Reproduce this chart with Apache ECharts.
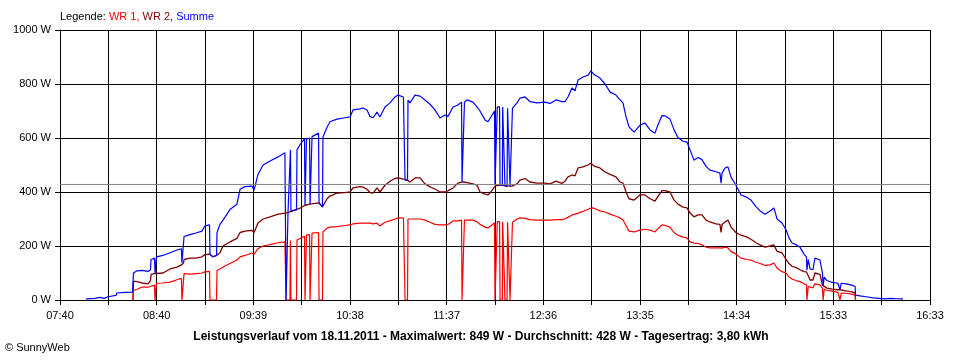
<!DOCTYPE html>
<html>
<head>
<meta charset="utf-8">
<script src="https://cdn.jsdelivr.net/npm/echarts@6/dist/echarts.min.js"></script>
<style>html,body{margin:0;padding:0;background:#fff}#c{width:960px;height:360px}</style>
</head>
<body>
<div id="c"></div>
<script>
// minutes since 07:40
const times = [15.9,21.4,24.5,27.0,29.4,30.6,34.3,34.9,39.8,44.4,
44.7,45.0,47.2,50.2,53.9,55.4,55.8,57.9,58.2,58.8,
59.1,63.1,67.4,68.6,71.7,74.4,74.7,75.7,76.0,79.6,
83.3,87.0,88.8,91.6,91.9,93.7,95.9,96.2,98.0,99.9,
104.1,108.4,110.3,113.3,117.6,118.9,121.3,124.4,128.7,133.6,
137.8,138.5,139.4,139.7,140.9,141.2,141.5,144.9,145.2,147.0,
149.8,150.1,150.7,151.0,152.9,153.2,154.1,154.4,158.4,158.7,
160.8,161.1,163.6,165.4,169.7,174.6,177.7,179.5,183.8,185.6,
188.1,189.9,191.8,194.2,196.0,199.1,202.2,205.2,207.1,210.4,
210.9,211.4,212.9,213.2,214.4,217.5,220.6,223.6,226.7,229.7,
232.8,235.9,237.7,240.8,243.8,246.0,246.3,247.5,247.8,249.3,
253.0,255.5,257.3,260.4,262.2,264.0,266.2,266.5,267.7,267.9,
269.3,269.6,271.0,271.2,272.4,272.6,273.9,274.2,275.4,275.7,
276.9,277.2,280.0,281.8,284.9,287.9,292.2,297.1,300.2,303.9,
307.5,309.4,311.2,313.7,315.5,317.4,320.4,323.5,325.3,327.2,
330.8,333.9,337.0,340.6,343.1,344.9,346.8,348.6,351.7,355.3,
358.4,361.5,364.5,366.4,368.8,370.6,373.7,376.2,378.6,381.7,
384.1,386.0,388.4,390.9,393.3,395.8,398.2,401.9,404.3,405.0,
405.6,407.4,409.2,411.1,414.1,417.2,420.9,423.3,426.4,428.9,
431.9,435.0,437.4,439.3,442.3,444.8,446.6,448.5,450.9,453.4,
455.8,457.3,457.6,458.1,458.4,459.5,461.3,462.5,465.6,467.1,
467.5,467.9,468.2,469.9,473.0,476.6,477.9,478.3,478.6,481.5,
485.2,487.1,487.4,490.1,493.8,498.1,499.3,505.4,508.5,511.6,516.5];

const summe = [4,6,10,6,12,15,17,26,28,29,
29,100,108,110,106,112,150,155,98,98,
160,165,175,176,185,190,137,137,235,242,
248,255,275,278,168,160,165,250,280,296,
335,355,410,420,422,407,465,500,515,530,
545,0,0,326,326,556,330,335,556,575,
598,352,352,595,600,355,355,605,618,360,
345,604,640,660,670,675,678,704,708,711,
704,680,675,696,678,715,730,752,759,752,
590,444,444,740,730,759,755,741,725,704,
674,685,680,715,722,733,437,437,733,741,
733,715,700,667,660,678,700,425,425,715,
715,425,425,715,715,422,422,710,710,422,
422,711,730,748,752,735,730,733,728,741,
735,735,752,785,775,815,826,833,849,835,
822,800,770,759,741,730,678,641,622,648,
655,630,618,650,683,682,670,630,602,588,
585,556,518,528,520,495,481,475,470,433,
470,489,493,455,425,389,380,370,346,330,
318,330,341,300,285,260,230,211,205,195,
170,160,110,110,150,115,112,155,148,100,
52,52,85,72,65,62,38,38,62,60,
55,50,18,15,12,8,4,4,6,5,4];

const wr2 = [null,null,null,null,null,null,null,null,null,null,
0,70,68,63,60,72,95,98,98,98,
98,100,115,118,122,130,135,137,150,155,
155,160,168,170,168,160,165,170,175,200,
215,228,250,255,258,250,285,300,308,318,
322,322,324,326,326,328,330,335,336,340,
350,352,352,355,355,355,355,356,360,360,
345,350,375,385,396,398,400,415,420,418,
410,398,396,415,400,425,440,450,452,448,
444,444,444,440,437,452,452,430,419,411,
400,400,405,415,433,437,437,437,437,435,
430,425,400,392,389,400,419,425,425,425,
425,425,425,424,424,422,422,422,422,422,
422,423,430,444,450,437,433,433,430,440,
432,440,456,463,460,489,493,500,507,496,
489,474,465,456,437,433,400,375,370,389,
389,375,366,385,405,405,400,370,355,344,
341,322,308,315,315,296,289,282,280,250,
280,289,296,270,250,240,233,225,212,204,
196,200,204,180,175,150,135,125,120,112,
105,104,104,100,90,74,74,100,95,55,
52,52,50,44,40,38,38,38,36,34,
30,26,0,null,null,null,null,null,null,null,null];

const wr1 = [null,null,null,null,null,null,null,null,null,null,
0,35,40,48,48,50,52,55,0,0,
62,63,66,72,75,80,0,0,98,96,
98,100,104,106,0,0,0,110,115,122,
135,148,160,165,174,170,190,200,205,212,
215,0,0,0,0,220,0,0,222,228,
236,0,0,240,242,0,0,248,250,0,
0,252,266,270,272,276,278,282,285,285,
285,285,282,285,274,288,293,300,304,304,
148,0,0,300,296,300,300,296,288,280,
278,278,280,293,293,296,0,0,296,296,
296,290,280,270,267,275,285,0,0,290,
290,0,0,290,290,0,0,288,288,0,
0,288,300,304,302,298,296,296,296,298,
298,300,306,315,318,322,328,336,341,340,
330,326,318,310,304,296,275,255,252,259,
262,259,252,265,278,276,270,250,240,233,
230,215,211,210,204,196,193,193,193,190,
192,196,193,180,170,155,150,148,140,135,
128,130,137,118,105,100,85,78,72,68,
60,56,0,0,50,46,45,60,56,44,
0,0,40,36,33,28,0,0,26,25,
22,18,0,null,null,null,null,null,null,null,null];

const xLabels = ['07:40','08:40','09:39','10:38','11:37','12:36','13:35','14:34','15:33','16:33'];
const yTicks = [0,200,400,600,800,1000];
const average = 428;
const titleText = 'Leistungsverlauf vom 18.11.2011 - Maximalwert: 849 W - Durchschnitt: 428 W - Tagesertrag: 3,80 kWh';
const copyright = '\u00A9 SunnyWeb';

const spanMinutes = 533;          // 07:40 .. 16:33
const gridSteps = 18;
const minPerStep = spanMinutes / gridSteps;

function toPairs(vals) {
  return times.map((t, i) => [t / minPerStep, vals[i]]);
}

const FONT = '"Liberation Sans", Arial, sans-serif';
const chart = echarts.init(document.getElementById('c'), null, {renderer: 'canvas'});
chart.setOption({
  animation: false,
  backgroundColor: '#ffffff',
  grid: {left: 60, right: 30, top: 30, bottom: 60, containLabel: false},
  title: [{
    text: '{a|Legende: }{b|WR 1, }{c|WR 2, }{d|Summe}',
    left: 60, top: 11, padding: 0,
    textStyle: {
      fontFamily: FONT, fontSize: 11, fontWeight: 'normal',
      rich: {
        a: {color: '#000000', fontFamily: FONT, fontSize: 11},
        b: {color: '#ff0000', fontFamily: FONT, fontSize: 11},
        c: {color: '#800000', fontFamily: FONT, fontSize: 11},
        d: {color: '#0000ff', fontFamily: FONT, fontSize: 11}
      }
    }
  }],
  graphic: [
    {type: 'text', x: 481, y: 337, style: {text: titleText, font: 'bold 12px ' + FONT, fill: '#000', align: 'center', verticalAlign: 'middle'}},
    {type: 'text', x: 5, y: 348, style: {text: copyright, font: '11px ' + FONT, fill: '#000', align: 'left', verticalAlign: 'middle'}}
  ],
  xAxis: {
    type: 'value', min: 0, max: gridSteps, interval: 1,
    axisLine: {show: true, lineStyle: {color: '#000', width: 1}},
    axisTick: {show: true, length: 5, lineStyle: {color: '#000'}},
    axisLabel: {
      margin: 10, color: '#000', fontFamily: FONT, fontSize: 11,
      formatter: v => { const i = Math.round(v); return i % 2 === 0 ? xLabels[i / 2] : ''; }
    },
    splitLine: {show: true, lineStyle: {color: '#000', width: 1}}
  },
  yAxis: {
    type: 'value', min: yTicks[0], max: yTicks[yTicks.length - 1], interval: yTicks[1] - yTicks[0],
    axisLine: {show: true, lineStyle: {color: '#000', width: 1}},
    axisTick: {show: true, length: 5, lineStyle: {color: '#000'}},
    axisLabel: {margin: 9, color: '#000', fontFamily: FONT, fontSize: 11, formatter: v => String(v) + ' W'},
    splitLine: {show: true, lineStyle: {color: '#000', width: 1}}
  },
  series: [
    {name: 'WR 2', type: 'line', data: toPairs(wr2), showSymbol: false, symbol: 'none', connectNulls: false,
     lineStyle: {color: '#800000', width: 1.3}, itemStyle: {color: '#800000'}, z: 2},
    {name: 'WR 1', type: 'line', data: toPairs(wr1), showSymbol: false, symbol: 'none', connectNulls: false,
     lineStyle: {color: '#ff0000', width: 1.2}, itemStyle: {color: '#ff0000'}, z: 3},
    {name: 'Summe', type: 'line', data: toPairs(summe), showSymbol: false, symbol: 'none', connectNulls: false,
     lineStyle: {color: '#0000ff', width: 1.2}, itemStyle: {color: '#0000ff'}, z: 4},
    {name: 'Durchschnitt', type: 'line', data: [[0, average], [gridSteps, average]], showSymbol: false, symbol: 'none',
     lineStyle: {color: '#808080', width: 1}, z: 5, silent: true}
  ]
});
</script>
</body>
</html>
